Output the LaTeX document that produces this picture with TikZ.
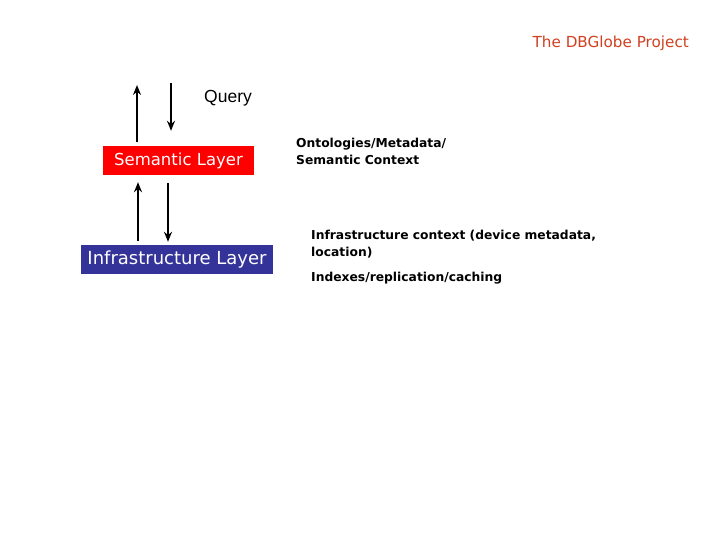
\documentclass[tikz,border=0pt]{standalone}
\usepackage{fontspec}
\setmainfont{DejaVu Sans}
\newfontfamily\queryfont{Liberation Sans}
\usetikzlibrary{positioning,arrows.meta}
\definecolor{semred}{RGB}{255,0,0}
\definecolor{infblue}{RGB}{51,51,153}
\definecolor{titlered}{RGB}{208,64,32}
\tikzset{
  layer/.style={inner sep=0pt, text=white},
  note/.style={anchor=west, align=left, inner sep=0pt, font=\bfseries\fontsize{12.3}{17}\selectfont},
  flow/.style={line width=1.8pt, -{Stealth[length=10pt,width=8pt]}}
}
\begin{document}
\begin{tikzpicture}[x=1pt, y=-1pt, line cap=butt]
 \useasboundingbox (0,0) rectangle (720,540);
 % layers
 \node[layer, fill=semred, minimum width=151pt, minimum height=29pt, font=\fontsize{16.5}{18}\selectfont] (sem) at (178.5,160.5) {Semantic Layer};
 \node[layer, fill=infblue, minimum width=192pt, minimum height=29pt, font=\fontsize{18}{20}\selectfont] (inf) at (177,259.5) {Infrastructure Layer};
 \node[anchor=west, inner sep=0pt, font=\queryfont\fontsize{17.5}{20}\selectfont] (query) at (204,98) {Query};
 \node[anchor=east, inner sep=0pt, text=titlered, font=\fontsize{15.2}{17}\selectfont] (title) at (689,43) {The DBGlobe Project};
 % texts on the right
 \node[note] (onto) at (296,151.5) {Ontologies/Metadata/\\Semantic Context};
 \node[note] (ictx) at (311,244.5) {Infrastructure context (device metadata,\\location)};
 \node[note] (idx) at (311,278) {Indexes/replication/caching};
 % free ends
 \coordinate (out) at (137,85);
 \coordinate (in) at (171,83);
 % arrows
 \draw[flow] (sem.north -| out) ++(0,-4) -- (out);
 \draw[flow] (in) -- ([yshift=15pt]sem.north -| in);
 \draw[flow] (inf.north -| 138,0) ++(0,-4) -- ([yshift=-7pt]sem.south -| 138,0);
 \draw[flow] ([yshift=-8pt]sem.south -| 168,0) -- ([yshift=3pt]inf.north -| 168,0);
\end{tikzpicture}
\end{document}
